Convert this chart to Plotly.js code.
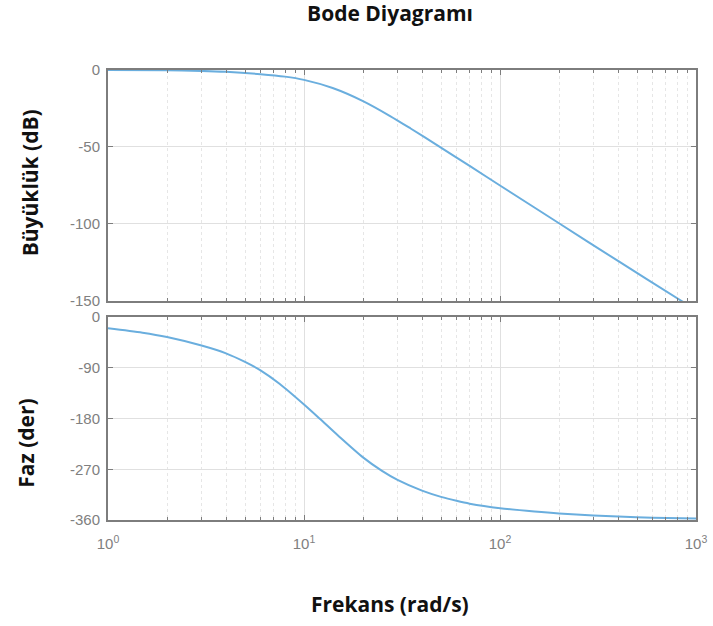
<!DOCTYPE html>
<html>
<head>
<meta charset="utf-8">
<script src="https://cdn.plot.ly/plotly-3.0.1.min.js"></script>
<style>html,body{margin:0;padding:0;background:#fff;}#chart{width:713px;height:626px;}</style>
</head>
<body>
<div id="chart"></div>
<script>
// Magnitude
const magFreq = [1, 2, 3, 4, 6, 8, 10, 14, 20, 27.5, 35, 47.5, 70, 100, 200, 400, 845, 1000];
const magDb   = [0, -0.2, -0.6, -1.2, -2.7, -4.3, -6.4, -11.7, -20.2, -29.9, -38, -48.6, -62.3, -75, -99.5, -124, -150, -156];
// Phase
const phFreq = [1, 1.5, 2, 3, 4, 5, 6, 7.5, 10, 12, 15, 20, 25, 30, 40, 50, 60, 70, 100, 150, 200, 300, 400, 600, 1000];
const phDeg  = [-19.9, -27.8, -35.6, -50.6, -64.4, -79.6, -94.6, -118.4, -155.2, -180, -211, -249, -273, -289, -308, -319, -326, -331, -339, -345, -348.5, -352, -354, -356, -357.5];
// Tick labels
const xTickVals = [1, 10, 100, 1000];
const xTickText = ['10<sup>0</sup>', '10<sup>1</sup>', '10<sup>2</sup>', '10<sup>3</sup>'];
const magTicks = [0, -50, -100, -150];
const magTickText = ['0', '-50', '-100', '-150'];
const phTicks = [0, -90, -180, -270, -360];
const phTickText = ['0', '-90', '-180', '-270', '-360'];
const minorVals = [];
[1, 10, 100].forEach(d => { for (let k = 2; k <= 9; k++) minorVals.push(k * d); });

const title = 'Bode Diyagramı';
const magTitle = 'Büyüklük (dB)';
const phTitle = 'Faz (der)';
const xTitle = 'Frekans (rad/s)';

const lineColor = '#6aaede';
const axisCol = '#7d7d7d';
const tickFont = {family: 'Liberation Sans, Arial, sans-serif', size: 15, color: '#808080'};
const labelFont = {family: 'Open Sans, Lato, sans-serif', size: 21, color: '#111'};

function xAxis(showLabels) {
  return {
    type: 'log', range: [0, 3],
    tickvals: xTickVals, ticktext: xTickText,
    showticklabels: showLabels, ticklabelstandoff: 9,
    ticks: 'inside', ticklen: 5, tickcolor: axisCol,
    showline: true, linecolor: axisCol, linewidth: 2, mirror: 'ticks',
    showgrid: true, gridcolor: '#e0e0e0', gridwidth: 1,
    zeroline: false, tickfont: tickFont,
    minor: {tickvals: minorVals, ticks: 'inside', ticklen: 3, tickcolor: axisCol,
            showgrid: true, gridcolor: '#e6e6e6', griddash: 'dot', gridwidth: 1}
  };
}
function yAxis(range, vals, text, domain) {
  return {
    range: range, domain: domain, tickvals: vals, ticktext: text,
    ticks: 'inside', ticklen: 5, tickcolor: axisCol, ticklabelstandoff: 3,
    showline: true, linecolor: axisCol, linewidth: 2, mirror: 'ticks',
    showgrid: true, gridcolor: '#e0e0e0', gridwidth: 1,
    zeroline: false, tickfont: tickFont
  };
}

const data = [
  {x: magFreq, y: magDb, type: 'scatter', mode: 'lines', line: {color: lineColor, width: 2, shape: 'spline', smoothing: 0.8},
   xaxis: 'x', yaxis: 'y', hoverinfo: 'x+y', showlegend: false},
  {x: phFreq, y: phDeg, type: 'scatter', mode: 'lines', line: {color: lineColor, width: 2, shape: 'spline', smoothing: 0.8},
   xaxis: 'x2', yaxis: 'y2', hoverinfo: 'x+y', showlegend: false}
];

const layout = {
  width: 713, height: 626,
  margin: {l: 108, r: 17, t: 70, b: 106},
  paper_bgcolor: '#ffffff', plot_bgcolor: '#ffffff',
  title: {text: '<b>' + title + '</b>', x: 0.547, xanchor: 'center', y: 0.978, yanchor: 'middle',
          font: {family: 'Open Sans, Lato, sans-serif', size: 21, color: '#111'}},
  xaxis: Object.assign(xAxis(false), {anchor: 'y', matches: 'x2'}),
  yaxis: yAxis([-150, 0], magTicks, magTickText, [0.4867, 1]),
  xaxis2: Object.assign(xAxis(true), {anchor: 'y2'}),
  yaxis2: yAxis([-360, 0], phTicks, phTickText, [0, 0.4511]),
  annotations: [
    {text: '<b>' + magTitle + '</b>', xref: 'paper', yref: 'paper', x: -0.133, y: 0.75, xanchor: 'center', yanchor: 'middle',
     textangle: -90, showarrow: false, font: labelFont},
    {text: '<b>' + phTitle + '</b>', xref: 'paper', yref: 'paper', x: -0.14, y: 0.171, xanchor: 'center', yanchor: 'middle',
     textangle: -90, showarrow: false, font: labelFont},
    {text: '<b>' + xTitle + '</b>', xref: 'paper', yref: 'paper', x: 0.479, y: -0.187, xanchor: 'center', yanchor: 'middle',
     showarrow: false, font: labelFont}
  ]
};

Plotly.newPlot('chart', data, layout, {displayModeBar: false, staticPlot: true});
</script>
</body>
</html>
